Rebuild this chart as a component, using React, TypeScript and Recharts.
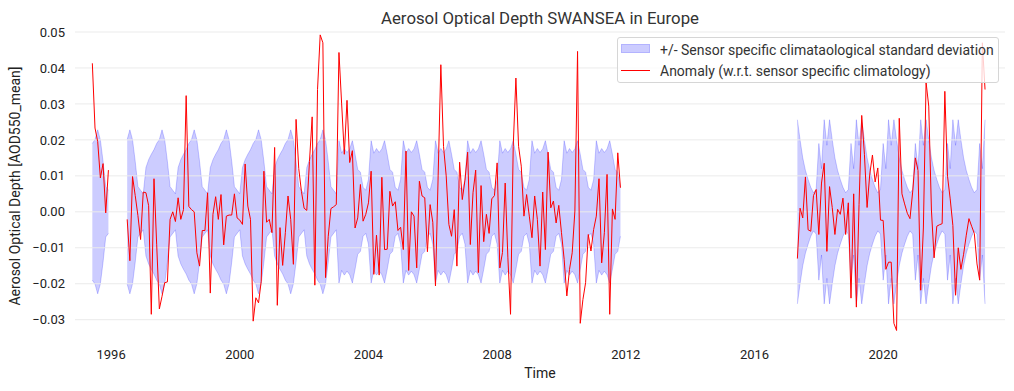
import React from 'react';
import { ComposedChart, Area, Line, XAxis, YAxis, ReferenceLine, Legend, Label } from 'recharts';

const CHART_TITLE = 'Aerosol Optical Depth SWANSEA in Europe';
const X_LABEL = 'Time';
const Y_LABEL = 'Aerosol Optical Depth [AOD550_mean]';
const BAND_LABEL = '+/- Sensor specific climataological standard deviation';
const LINE_LABEL = 'Anomaly (w.r.t. sensor specific climatology)';
const X_TICKS = [1996, 2000, 2004, 2008, 2012, 2016, 2020];
const Y_TICKS = [-0.03, -0.02, -0.01, 0, 0.01, 0.02, 0.03, 0.04, 0.05];
const X_DOMAIN = [1994.878, 2023.787];
const Y_DOMAIN = [-0.0362, 0.05];

// monthly anomaly segments: [year, month] of the first value
const SEG1_START = [1995, 6];
const SEG1_ANOMALY = [0.0413, 0.0233, 0.0195, 0.0094, 0.0134, -0.0003, 0.0116];

const SEG2_START = [1996, 7];
const SEG2_ANOMALY = [
  -0.0021, -0.0136, 0.0098, 0.0045, -0.001, -0.0077, 0.0055, 0.0053, 0.0017, -0.0285,
  0.0092, -0.009, -0.027, -0.0235, -0.0197, -0.0195, -0.0021, 0.0, -0.0027, 0.0039,
  -0.0021, 0.0006, 0.0323, 0.0015, 0.0006, 0.0, -0.0114, -0.0151, -0.0052, -0.0052,
  0.0053, -0.0226, -0.0007, 0.0042, -0.0021, 0.0048, -0.0092, -0.0012, -0.0009, -0.0009,
  0.005, -0.0017, -0.0023, -0.0035, 0.0133, 0.0016, -0.0021, -0.0304, -0.0239, -0.0253,
  -0.0193, 0.0113, -0.0029, -0.0021, -0.0058, 0.0179, -0.026, -0.0044, -0.0149, -0.0058,
  0.0044, -0.0021, -0.0146, 0.0257, 0.012, 0.0057, 0.001, 0.0004, 0.014, 0.0264,
  -0.0204, 0.034, 0.0492, 0.047, -0.0183, -0.0068, 0.0009, 0.0014, 0.002, 0.0443,
  0.03, 0.016, 0.031, 0.0137, 0.017, -0.0045, -0.0017, 0.0076, -0.0026, -0.0007,
  0.0025, 0.0113, -0.0174, -0.0065, -0.0176, 0.0096, -0.0105, -0.0104, 0.0057, 0.0016,
  0.0028, -0.0052, -0.0043, -0.0105, 0.0169, -0.0163, 0.0, -0.0012, -0.0156, 0.0085,
  0.0044, 0.0039, -0.0111, 0.002, -0.0029, -0.0206, 0.01, 0.0409, 0.0182, 0.01,
  -0.0035, -0.0068, 0.0006, -0.0151, 0.0138, 0.0034, 0.0088, 0.0166, -0.0091, 0.0053,
  0.0116, -0.0169, 0.0073, -0.0083, -0.0007, -0.006, 0.0036, 0.0045, 0.0136, -0.0156,
  -0.0113, 0.008, -0.0126, -0.0285, 0.0182, 0.0372, 0.0182, 0.0127, -0.0012, 0.0048,
  -0.0012, -0.0072, 0.0044, -0.0021, -0.0151, 0.0055, -0.0105, 0.0166, 0.0011, 0.003,
  -0.0031, 0.0018, -0.0058, -0.0132, -0.0234, -0.016, -0.0114, 0.0002, 0.0446, -0.031,
  -0.0244, -0.0197, -0.0063, -0.0109, -0.0049, -0.0012, 0.0092, -0.0142, -0.0058, 0.0104,
  -0.0285, 0.0008, -0.0021, 0.0164, 0.0067,
];

const SEG3_START = [2017, 5];
const SEG3_ANOMALY = [
  -0.013, 0.001, -0.0017, 0.0097, -0.005, -0.0054, 0.0045, 0.0062, -0.0063, 0.008,
  0.0135, -0.011, 0.007, 0.0012, -0.0063, 0.0007, -0.0007, 0.0038, -0.0063, 0.0025,
  -0.024, 0.005, -0.0265, 0.002, 0.0268, 0.016, 0.0012, 0.0105, 0.0158, 0.0083,
  0.0122, -0.0023, -0.0024, -0.016, -0.014, -0.014, -0.031, -0.033, 0.026, 0.005,
  0.0022, -0.0004, -0.0019, 0.0055, 0.015, 0.0115, -0.0218, -0.0045, 0.036, 0.0294,
  0.0005, -0.0128, -0.004, -0.0036, -0.0033, 0.0335, 0.0099, 0.0036, -0.0038, -0.0232,
  -0.01, -0.016, -0.0118, -0.0065, -0.0019, -0.004, -0.006, -0.0145, -0.019, 0.047,
  0.034,
];

// sensor specific climatological standard deviation, Jan..Dec
const STD_SENSOR_A = [0.005, 0.0123, 0.0145, 0.016, 0.0173, 0.019, 0.0201, 0.0228, 0.02, 0.014, 0.007, 0.006];
const STD_SENSOR_B = [0.009, 0.0198, 0.0163, 0.0176, 0.0165, 0.0175, 0.0198, 0.016, 0.0118, 0.011, 0.0068, 0.006];
const STD_SENSOR_C = [0.019, 0.012, 0.0256, 0.0185, 0.0256, 0.02, 0.015, 0.0115, 0.009, 0.0068, 0.0053, 0.0062];
const SENSOR_B_FROM = [2003, 2];
const SENSOR_C_FROM = [2017, 1];

type Row = { t: number; band: [number, number] | null; anomaly: number | null };

const monthIndex = (ym: number[]) => ym[0] * 12 + ym[1] - 1;

function stdFor(idx: number): number {
  const clim =
    idx >= monthIndex(SENSOR_C_FROM) ? STD_SENSOR_C : idx >= monthIndex(SENSOR_B_FROM) ? STD_SENSOR_B : STD_SENSOR_A;
  return clim[idx % 12];
}

function buildRows(): Row[] {
  const segments = [
    { start: SEG1_START, values: SEG1_ANOMALY },
    { start: SEG2_START, values: SEG2_ANOMALY },
    { start: SEG3_START, values: SEG3_ANOMALY },
  ];
  const rows: Row[] = [];
  segments.forEach((seg, s) => {
    const base = monthIndex(seg.start);
    seg.values.forEach((v, i) => {
      const idx = base + i;
      const sd = stdFor(idx);
      rows.push({ t: idx / 12, band: [-sd, sd], anomaly: v });
    });
    if (s < segments.length - 1) {
      rows.push({ t: (base + seg.values.length) / 12, band: null, anomaly: null });
    }
  });
  return rows;
}

const DATA = buildRows();

const FONT = 'Roboto, "DejaVu Sans", sans-serif';
const fmtY = (v: number) => (v < 0 ? '\u2212' + Math.abs(v).toFixed(2) : v.toFixed(2));

const renderLegend = () => (
  <div
    style={{
      width: 382,
      height: 46,
      boxSizing: 'border-box',
      border: '1px solid #d6d6d6',
      borderRadius: 3,
      background: 'rgba(255,255,255,0.8)',
      fontFamily: FONT,
      fontSize: 14,
      color: '#333',
      position: 'relative',
    }}
  >
    <div
      style={{
        position: 'absolute',
        left: 3,
        top: 6,
        width: 29,
        height: 9,
        boxSizing: 'border-box',
        background: 'rgba(0,0,255,0.2)',
        border: '1px solid rgba(0,0,255,0.12)',
      }}
    />
    <div style={{ position: 'absolute', left: 42, top: 4, lineHeight: '16px', whiteSpace: 'nowrap' }}>{BAND_LABEL}</div>
    <div style={{ position: 'absolute', left: 3, top: 32, width: 29, height: 1, background: '#ff0000' }} />
    <div style={{ position: 'absolute', left: 42, top: 25, lineHeight: '16px', whiteSpace: 'nowrap' }}>{LINE_LABEL}</div>
  </div>
);

export default function App() {
  return (
    <div style={{ position: 'absolute', left: 0, top: 0, width: 1014, height: 391, background: '#fff', fontFamily: FONT }}>
      <div
        style={{
          position: 'absolute',
          left: 75,
          width: 930,
          top: 7.6,
          textAlign: 'center',
          fontSize: 16.8,
          lineHeight: '20px',
          color: '#333',
          zIndex: 2,
          whiteSpace: 'nowrap',
        }}
      >
        {CHART_TITLE}
      </div>
      <ComposedChart width={1014} height={391} data={DATA} margin={{ top: 32, right: 9, bottom: 9, left: 0 }}>
        <Area
          type="linear"
          dataKey="band"
          stroke="#0000ff"
          strokeOpacity={0.2}
          strokeWidth={1}
          fill="#0000ff"
          fillOpacity={0.2}
          isAnimationActive={false}
          connectNulls={false}
          dot={false}
          activeDot={false}
        />
        {Y_TICKS.map((v) => (
          <ReferenceLine key={v} y={v} stroke="#ebebeb" strokeWidth={1} />
        ))}
        <Line
          type="linear"
          dataKey="anomaly"
          stroke="#ff0000"
          strokeWidth={1}
          dot={false}
          activeDot={false}
          isAnimationActive={false}
          connectNulls={false}
        />
        <XAxis
          type="number"
          dataKey="t"
          domain={X_DOMAIN}
          ticks={X_TICKS}
          allowDataOverflow
          axisLine={false}
          stroke="none"
          tickLine={false}
          tickSize={0}
          tickMargin={8}
          height={40}
          interval={0}
          tickFormatter={(v: number) => String(v)}
          tick={{ fontSize: 13, fill: '#222', fontFamily: FONT }}
        >
          <Label
            content={() => (
              <text x={540} y={373} textAnchor="middle" dominantBaseline="central" fontSize={14} fill="#222" fontFamily={FONT}>
                {X_LABEL}
              </text>
            )}
          />
        </XAxis>
        <YAxis
          type="number"
          domain={Y_DOMAIN}
          ticks={Y_TICKS}
          allowDataOverflow
          axisLine={false}
          stroke="none"
          tickLine={false}
          tickSize={0}
          tickMargin={10}
          width={75}
          interval={0}
          tickFormatter={fmtY}
          tick={{ fontSize: 13, fill: '#222', fontFamily: FONT }}
        >
          <Label
            content={() => (
              <text
                x={15}
                y={186}
                transform="rotate(-90 15 186)"
                textAnchor="middle"
                dominantBaseline="central"
                fontSize={14}
                fill="#222"
                fontFamily={FONT}
              >
                {Y_LABEL}
              </text>
            )}
          />
        </YAxis>
        <Legend
          layout="horizontal"
          verticalAlign="middle"
          align="center"
          content={renderLegend}
          wrapperStyle={{ position: 'absolute', left: 617, top: 37, width: 382, height: 46 }}
        />
      </ComposedChart>
    </div>
  );
}
